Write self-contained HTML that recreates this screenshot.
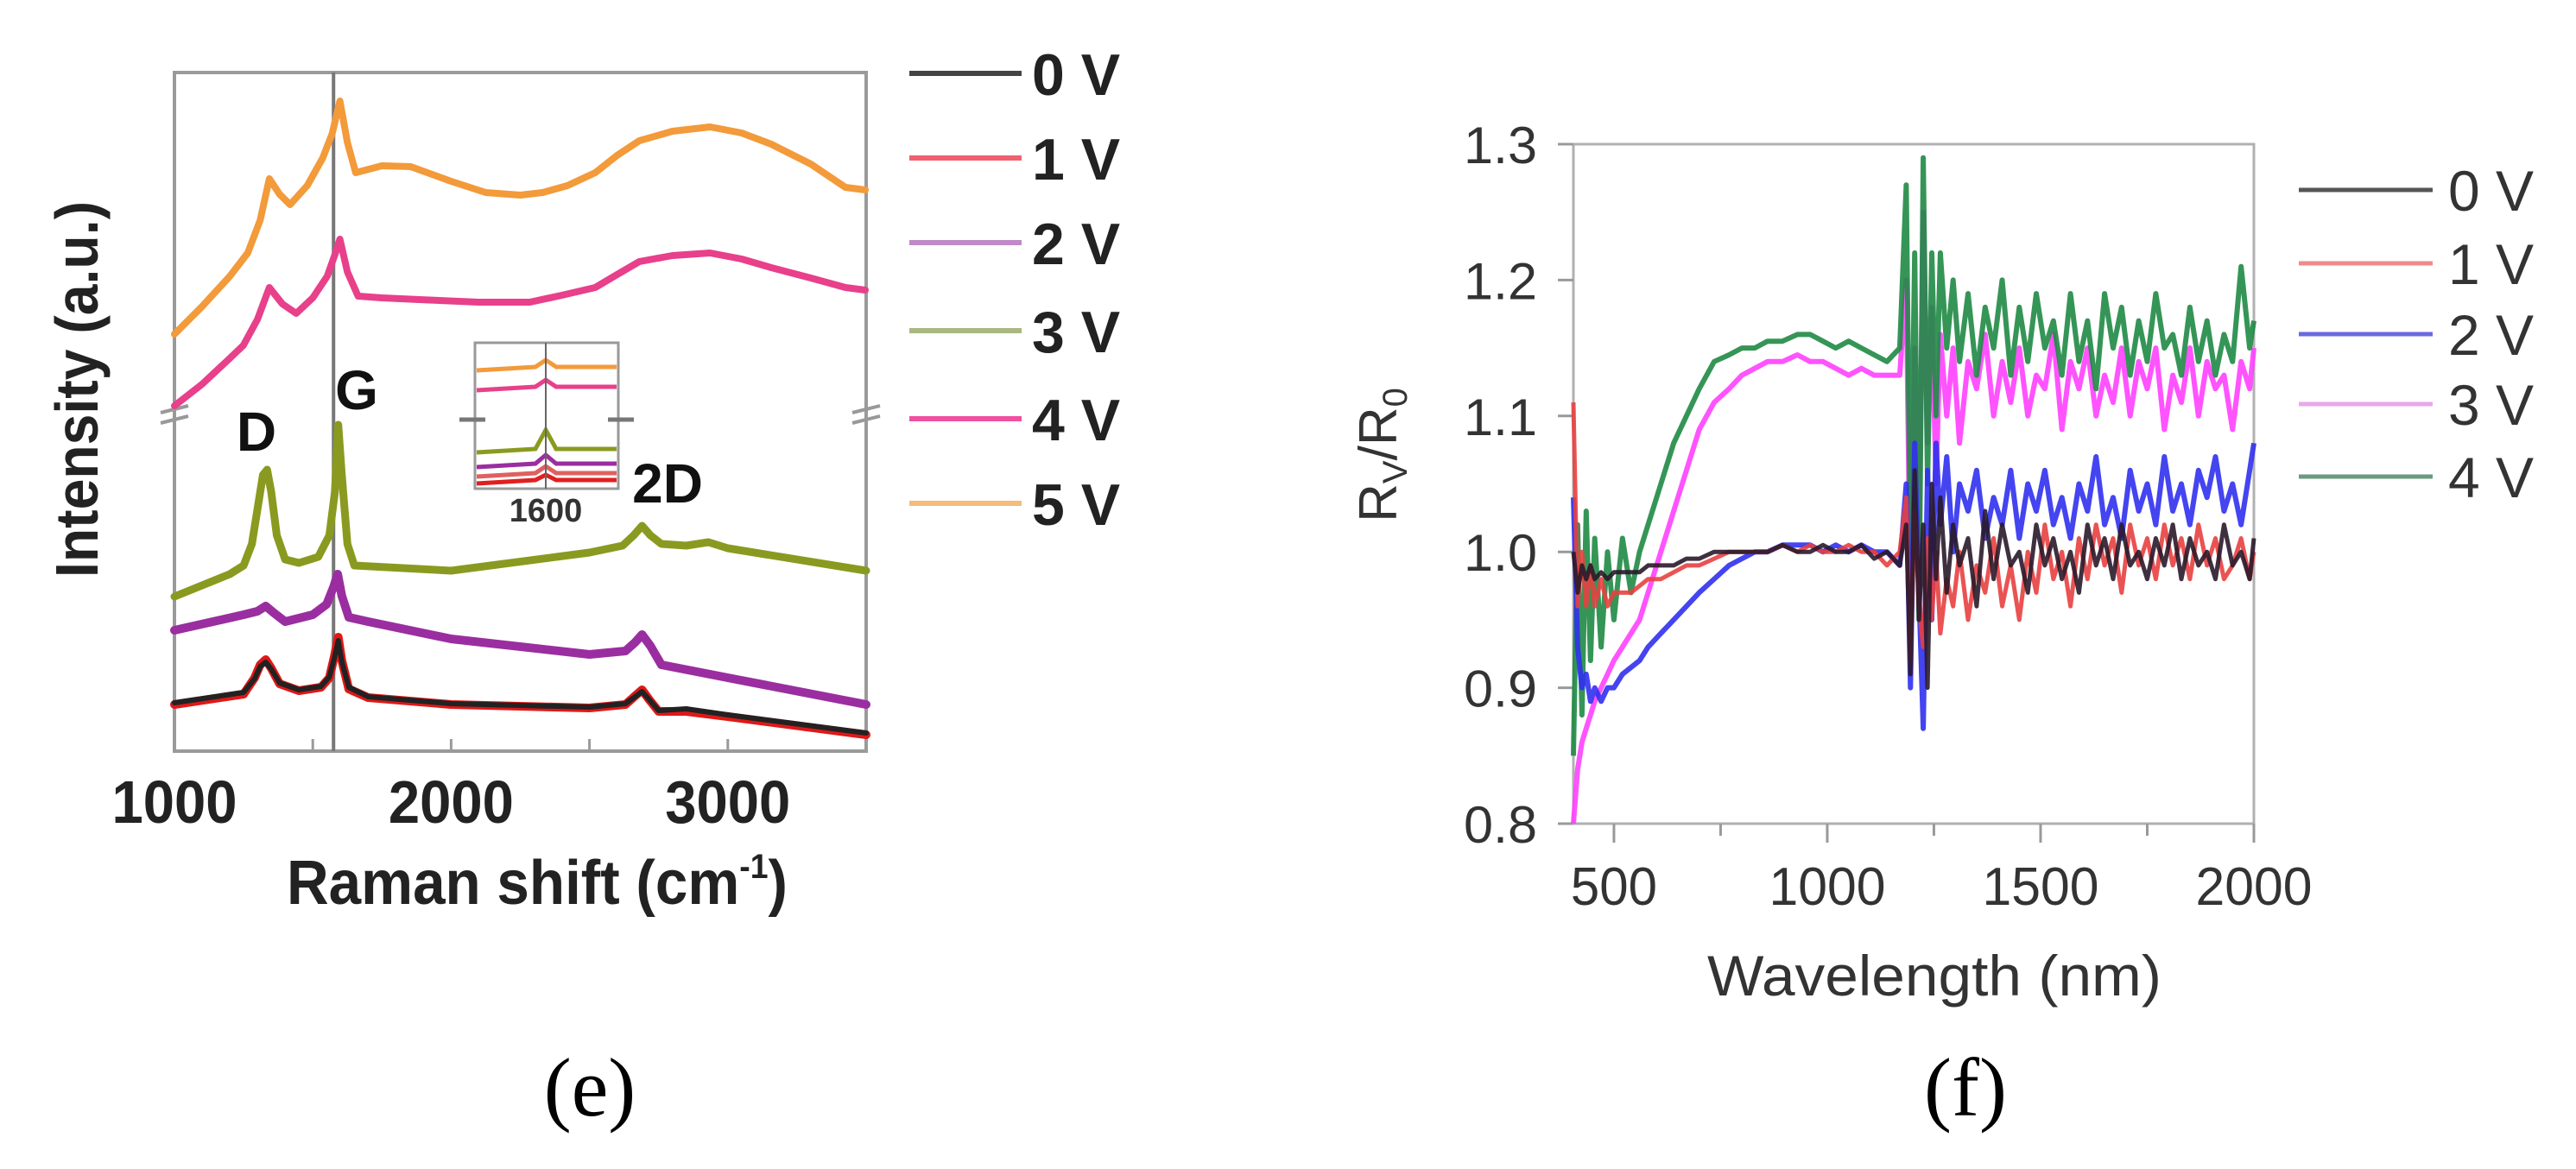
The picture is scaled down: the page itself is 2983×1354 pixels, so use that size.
<!DOCTYPE html>
<html><head><meta charset="utf-8"><style>
html,body{margin:0;padding:0;background:#fff;}
svg{display:block;}
text{font-family:"Liberation Sans",sans-serif;}
</style></head>
<body>
<svg id="fig" width="2983" height="1354" viewBox="0 0 2983 1354" xmlns="http://www.w3.org/2000/svg">
<rect x="0" y="0" width="2983" height="1354" fill="#fff"/>
<g id="left"></g>
<g id="right"></g>
<text x="683" y="1292" font-size="96" text-anchor="middle" fill="#000" style="font-family:'Liberation Serif',serif">(e)</text>
<text x="2276" y="1292" font-size="96" text-anchor="middle" fill="#000" style="font-family:'Liberation Serif',serif">(f)</text>
</svg>
<script>
// ---------- Left chart (Raman) data ----------
const ramanTicks = [1000, 2000, 3000];
const ramanMinorTicks = [1500, 2500];
const ramanLabels = ["0 V", "1 V", "2 V", "3 V", "4 V", "5 V"];
const x5V = [1000,1100,1200,1265,1310,1343,1380,1418,1480,1536,1570,1598,1625,1655,1750,1854,2000,2125,2250,2331,2420,2521,2600,2680,2800,2936,3050,3157,3300,3425,3497];
const y5V = [483,515,550,577,615,663,645,633,655,687,715,753,705,670,678,677,660,647,644,647,655,670,690,707,718,723,716,703,680,653,650];
const x4V = [1000,1100,1200,1249,1300,1343,1390,1440,1500,1552,1580,1598,1625,1664,1750,1885,2100,2284,2400,2521,2600,2680,2800,2936,3050,3157,3300,3425,3497];
const y4V = [400,425,455,470,500,537,518,507,525,550,575,593,555,527,525,523,520,520,528,537,552,567,574,577,570,560,548,537,534];
const x3V = [1000,1200,1250,1280,1305,1320,1335,1350,1370,1400,1450,1520,1560,1580,1592,1605,1625,1650,2000,2500,2620,2660,2690,2720,2760,2850,2930,3000,3500];
const y3V = [179,205,215,240,290,320,326,300,250,222,218,225,250,300,378,320,240,215,209,230,238,250,261,250,240,238,242,235,209];
const x2V = [1000,1250,1300,1330,1360,1400,1500,1550,1575,1590,1605,1630,1700,2000,2500,2630,2665,2690,2720,2760,3000,3500];
const y2V = [140,158,162,168,160,150,158,170,190,205,180,155,150,130,112,116,126,135,122,100,85,54];
const x1V = [1000,1250,1290,1310,1330,1350,1380,1450,1530,1560,1578,1592,1605,1630,1700,2000,2500,2630,2665,2690,2715,2750,2850,3000,3500];
const y1V = [54,66,85,100,106,96,78,70,74,85,110,132,105,72,62,54,50,54,64,71,60,46,46,40,19];
const x0V = [1000,1250,1290,1310,1330,1350,1380,1450,1530,1560,1578,1592,1605,1630,1700,2000,2500,2630,2665,2690,2715,2750,2850,3000,3500];
const y0V = [56,68,84,98,103,95,79,71,75,86,108,128,104,74,63,55,51,55,63,69,60,47,49,42,21];

// ---------- Right chart (R_V/R_0) data ----------
const wlTicks = [500, 1000, 1500, 2000];
const wlMinor = [750, 1250, 1750];
const rTicks = [0.8, 0.9, 1.0, 1.1, 1.2, 1.3];
const rTickLabels = ["0.8","0.9","1.0","1.1","1.2","1.3"];
const rLabels = ["0 V", "1 V", "2 V", "3 V", "4 V"];
const wl = [405,415,425,435,445,455,470,485,500,520,540,560,580,610,640,670,700,735,770,800,830,860,895,930,960,990,1020,1050,1080,1110,1140,1170,1185,1195,1205,1215,1225,1235,1245,1255,1265,1280,1295,1310,1330,1350,1370,1390,1410,1430,1450,1470,1490,1510,1530,1550,1570,1590,1610,1630,1650,1670,1690,1710,1730,1750,1770,1790,1810,1830,1850,1870,1890,1910,1930,1950,1970,1990,2000];
const r0V = [1.00,0.97,0.99,0.98,0.99,0.98,0.985,0.98,0.985,0.985, 0.985,0.985,0.99,0.99,0.99,0.995,0.995,1.0,1.0,1.0, 1.0,1.0,1.005,1.0,1.0,1.005,1.0,1.0,1.005,0.995, 1.0,0.99,1.02,0.91,1.06,0.95,1.02,0.90,1.05,0.98, 1.04,0.97,1.02,0.99,1.01,0.96,1.03,0.98,1.02,0.99, 1.00,0.97,1.02,0.99,1.01,0.98,1.00,0.97,1.02,0.99, 1.01,0.98,1.02,0.99,1.00,0.98,1.01,0.99,1.02,0.98, 1.01,0.99,1.00,0.98,1.02,0.99,1.00,0.98,1.01];
const r1V = [1.11,0.96,1.00,0.96,0.99,0.96,0.98,0.96,0.97,0.97, 0.97,0.975,0.98,0.98,0.985,0.99,0.99,0.995,1.0,1.0, 1.0,1.0,1.005,1.0,1.005,1.0,1.0,1.005,1.0,1.0, 0.99,1.0,1.04,0.92,1.03,0.96,0.93,1.01,0.95,1.00, 0.94,0.98,0.96,1.00,0.95,0.99,0.97,1.01,0.96,0.99, 0.95,1.00,0.97,1.02,0.98,1.00,0.96,1.01,0.98,1.02, 0.99,1.01,0.97,1.02,0.99,1.01,0.98,1.02,0.99,1.01, 0.98,1.02,0.99,1.01,0.98,0.99,1.01,0.98,1.00];
const r2V = [1.04,0.93,0.90,0.91,0.89,0.90,0.89,0.90,0.90,0.91, 0.915,0.92,0.93,0.94,0.95,0.96,0.97,0.98,0.99,0.995, 1.0,1.0,1.005,1.005,1.005,1.0,1.005,1.0,1.005,1.0, 1.0,0.99,1.05,0.90,1.08,0.97,0.87,1.06,0.95,1.08, 1.02,1.07,1.00,1.05,1.03,1.06,1.01,1.04,1.02,1.06, 1.01,1.05,1.03,1.06,1.02,1.04,1.01,1.05,1.03,1.07, 1.02,1.04,1.01,1.06,1.03,1.05,1.02,1.07,1.03,1.05, 1.02,1.06,1.04,1.07,1.03,1.05,1.02,1.06,1.08];
const r3V = [0.80,0.84,0.86,0.87,0.88,0.89,0.90,0.91,0.92,0.93, 0.94,0.95,0.97,1.00,1.03,1.06,1.09,1.11,1.12,1.13, 1.135,1.14,1.14,1.145,1.14,1.14,1.135,1.13,1.135,1.13, 1.13,1.13,1.20,0.96,1.15,1.00,1.25,1.08,1.18,1.05, 1.16,1.10,1.15,1.08,1.14,1.12,1.16,1.10,1.14,1.11, 1.15,1.10,1.13,1.12,1.16,1.09,1.14,1.12,1.15,1.10, 1.13,1.11,1.15,1.10,1.14,1.12,1.15,1.09,1.13,1.11, 1.15,1.10,1.14,1.12,1.13,1.09,1.14,1.12,1.15];
const r4V = [0.85,1.02,0.88,1.03,0.92,1.01,0.93,1.00,0.95,1.01, 0.97,1.00,1.02,1.05,1.08,1.10,1.12,1.14,1.145,1.15, 1.15,1.155,1.155,1.16,1.16,1.155,1.15,1.155,1.15,1.145, 1.14,1.15,1.27,1.00,1.22,0.95,1.29,1.05,1.22,1.10, 1.22,1.15,1.20,1.14,1.19,1.13,1.18,1.15,1.20,1.13, 1.18,1.14,1.19,1.15,1.17,1.13,1.19,1.14,1.17,1.12, 1.19,1.15,1.18,1.13,1.17,1.14,1.19,1.15,1.16,1.13, 1.18,1.14,1.17,1.13,1.16,1.14,1.21,1.15,1.17];

const NS = "http://www.w3.org/2000/svg";
function mk(parent, tag, attrs, txt){
  const e = document.createElementNS(NS, tag);
  for (const k in attrs) e.setAttribute(k, attrs[k]);
  if (txt !== undefined) e.textContent = txt;
  parent.appendChild(e);
  return e;
}
function pathFrom(xs, ys, fx, fy){
  let d = "";
  for (let i = 0; i < xs.length; i++) d += (i ? "L" : "M") + fx(xs[i]).toFixed(1) + " " + fy(ys[i]).toFixed(1);
  return d;
}

// ---------- Left chart ----------
(function(){
  const g = document.getElementById("left");
  const L = 202, R = 1003, T = 84, B = 870;
  const sx = v => L + (v - 1000) / 2500 * (R - L);
  const sy = v => B - v / 786 * (B - T);

  const frame = mk(g, "rect", {x:L, y:T, width:R-L, height:B-T, fill:"none", stroke:"#9a9a9a", "stroke-width":4});
  
  

  ramanMinorTicks.concat(ramanTicks).forEach(t => {
    const tk = mk(g, "line", {x1:sx(t), x2:sx(t), y1:B, y2:B-14, stroke:"#9a9a9a", "stroke-width":3});
    
    
  });
  ramanTicks.forEach(t => {
    const tl = mk(g, "text", {x:sx(t), y:953, "font-size":70, "text-anchor":"middle", fill:"#222", "font-weight":"bold", textLength:145, lengthAdjust:"spacingAndGlyphs"}, String(t));
    
    
  });

  const gl = mk(g, "line", {x1:sx(1575), x2:sx(1575), y1:T, y2:B, stroke:"#777", "stroke-width":4});
  
  

  [L, R].forEach(xb => {
    const br = mk(g, "path", {d:`M${xb-16} 478 l32 -8 M${xb-16} 490 l32 -8`, stroke:"#999", "stroke-width":4, fill:"none"});
    
    
  });

  const series = [
    [x0V, y0V, "#222", "0 V", 6], [x1V, y1V, "#e01818", "1 V", 10], [x2V, y2V, "#9a2ea0", "2 V", 10],
    [x3V, y3V, "#8a9a20", "3 V", 9], [x4V, y4V, "#e8408a", "4 V", 8], [x5V, y5V, "#f39a3a", "5 V", 8]
  ];
  const order = [2, 1, 0, 3, 4, 5];
  order.forEach(i => {
    const s = series[i];
    const p = mk(g, "path", {d:pathFrom(s[0], s[1], sx, sy), fill:"none", stroke:s[2], "stroke-width": s[4], "stroke-linejoin":"round", "stroke-linecap":"round"});
    
    
  });

  [["D",297,522],["G",413,474],["2D",773,582]].forEach(a => {
    const t = mk(g, "text", {x:a[1], y:a[2], "font-size":64, "text-anchor":"middle", fill:"#111", "font-weight":"bold"}, a[0]);
    
    
  });

  const ins = mk(g, "g", {});
  
  
  mk(ins, "rect", {x:550, y:397, width:166, height:169, fill:"#fff", stroke:"#999", "stroke-width":3});
  const insetLines = [[425,"#f39a3a",8],[448,"#e8408a",8],[520,"#8a9a20",22],[537,"#9a2ea0",10],[548,"#e06060",8],[556,"#e02020",6]];
  insetLines.forEach(l => {
    mk(ins, "path", {d:`M552 ${l[0]+4} L620 ${l[0]} L632 ${l[0]-l[2]} L644 ${l[0]} L714 ${l[0]}`, fill:"none", stroke:l[1], "stroke-width":5});
  });
  mk(ins, "line", {x1:632, x2:632, y1:397, y2:566, stroke:"#666", "stroke-width":2});
  mk(ins, "path", {d:"M532 486 h30 M704 486 h30", stroke:"#777", "stroke-width":5});
  mk(ins, "text", {x:632, y:604, "font-size":38, "text-anchor":"middle", fill:"#333", "font-weight":"bold"}, "1600");

  const xt = mk(g, "text", {x:622, y:1047, "font-size":72, "text-anchor":"middle", fill:"#222", "font-weight":"bold", textLength:580, lengthAdjust:"spacingAndGlyphs"});
  xt.innerHTML = 'Raman shift (cm<tspan font-size="40" dy="-30">-1</tspan><tspan dy="30">)</tspan>';
  
  

  const yt = mk(g, "text", {x:0, y:0, "font-size":70, "text-anchor":"middle", fill:"#222", "font-weight":"bold", transform:"translate(113 451) rotate(-90)", textLength:436, lengthAdjust:"spacingAndGlyphs"}, "Intensity (a.u.)");
  
  

  const legRows = [85,183,281,383,485,583];
  const legColors = ["#444","#f06070","#c08ac8","#a8b880","#f050a0","#f5bb7a"];
  ramanLabels.forEach((lab, i) => {
    const le = mk(g, "g", {});
    
    
    mk(le, "line", {x1:1053, x2:1183, y1:legRows[i], y2:legRows[i], stroke:legColors[i], "stroke-width":6});
    mk(le, "text", {x:1195, y:legRows[i]+25, "font-size":68, "font-weight":"bold", fill:"#222"}, lab);
  });
})();

// ---------- Right chart ----------
(function(){
  const g = document.getElementById("right");
  const L = 1822, R = 2610, T = 167, B = 954;
  const sx = v => L + (v - 405) / (2000 - 405) * (R - L);
  const sy = v => B - (v - 0.8) / 0.5 * (B - T);

  const frame = mk(g, "rect", {x:L, y:T, width:R-L, height:B-T, fill:"none", stroke:"#b0b0b0", "stroke-width":3});
  
  

  wlTicks.concat(wlMinor).forEach(t => {
    const tk = mk(g, "line", {x1:sx(t), x2:sx(t), y1:B, y2:B+ (wlTicks.includes(t)?22:14), stroke:"#999", "stroke-width":3});
    
    
  });
  wlTicks.forEach(t => {
    const tl = mk(g, "text", {x:sx(t), y:1048, "font-size":62, "text-anchor":"middle", fill:"#333", textLength: t<1000?100:135, lengthAdjust:"spacingAndGlyphs"}, String(t));
    
    
  });
  rTicks.forEach((t, i) => {
    const tk = mk(g, "line", {x1:L-18, x2:L, y1:sy(t), y2:sy(t), stroke:"#999", "stroke-width":3});
    
    
    const tl = mk(g, "text", {x:1780, y:sy(t)+22, "font-size":60, "text-anchor":"end", fill:"#333", textLength:85, lengthAdjust:"spacingAndGlyphs"}, rTickLabels[i]);
    
    
  });

  const series = [
    [r0V, "#2a1a2a", "0 V", 5], [r1V, "#e84040", "1 V", 5], [r2V, "#3030f0", "2 V", 6],
    [r3V, "#ff40ff", "3 V", 6], [r4V, "#1f8a45", "4 V", 6]
  ];
  const order = [3, 4, 2, 1, 0];
  order.forEach(i => {
    const s = series[i];
    const p = mk(g, "path", {d:pathFrom(wl, s[0], sx, sy), fill:"none", stroke:s[1], "stroke-width":s[3], "stroke-linejoin":"round", opacity:0.9});
    
    
  });

  const xt = mk(g, "text", {x:2240, y:1153, "font-size":66, "text-anchor":"middle", fill:"#333", textLength:526, lengthAdjust:"spacingAndGlyphs"}, "Wavelength (nm)");
  
  

  const yt = mk(g, "text", {x:0, y:0, "font-size":62, "text-anchor":"middle", fill:"#333", transform:"translate(1617 527) rotate(-90)"});
  yt.innerHTML = 'R<tspan font-size="40" dy="12">V</tspan><tspan dy="-12">/R</tspan><tspan font-size="40" dy="12">0</tspan>';
  
  

  const legRows = [220,305,387,468,552];
  const legColors = ["#555","#f08a8a","#6a6ae0","#e8a8e8","#6a9a80"];
  rLabels.forEach((lab, i) => {
    const le = mk(g, "g", {});
    
    
    mk(le, "line", {x1:2662, x2:2817, y1:legRows[i], y2:legRows[i], stroke:legColors[i], "stroke-width":5});
    mk(le, "text", {x:2835, y:legRows[i]+24, "font-size":66, fill:"#333"}, lab);
  });
})();
</script>
</body></html>
